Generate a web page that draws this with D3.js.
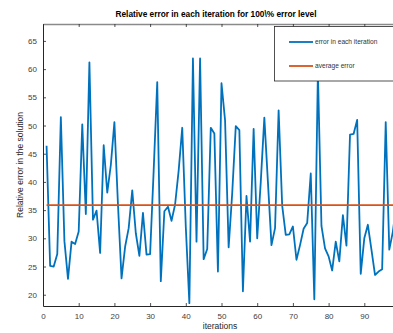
<!DOCTYPE html>
<html>
<head>
<meta charset="utf-8">
<script src="https://cdn.jsdelivr.net/npm/d3@7"></script>
<style>
  html, body { margin: 0; padding: 0; background: #fff; }
  svg { display: block; font-family: "Liberation Sans", Arial, sans-serif; }
</style>
</head>
<body>
<svg id="chart" width="393" height="333"></svg>
<script>
// ---- data ----
const iterations = d3.range(1, 101);
const errorValues = [
  46.4, 25.1, 25.0, 27.2, 51.5, 29.5, 22.8, 29.4, 29.0, 31.2,
  50.2, 34.3, 61.2, 33.3, 34.9, 27.4, 46.5, 38.1, 43.0, 50.6,
  36.0, 22.9, 28.5, 31.8, 38.5, 30.9, 26.9, 34.5, 27.1, 27.2,
  42.0, 57.7, 22.4, 34.8, 35.6, 33.1, 36.0, 42.0, 49.6, 32.0,
  18.5, 61.9, 29.4, 61.9, 26.3, 28.1, 49.6, 48.6, 24.1, 57.5,
  50.9, 28.4, 38.0, 49.9, 49.2, 20.6, 37.5, 29.4, 49.4, 30.0,
  40.0, 51.4, 40.0, 28.8, 31.8, 52.7, 35.8, 30.6, 30.7, 32.1,
  26.2, 28.8, 31.7, 32.7, 41.5, 19.2, 59.5, 32.2, 28.2, 26.8,
  24.3, 29.4, 25.9, 34.1, 28.7, 48.4, 48.5, 51.0, 23.7, 30.0,
  32.4, 28.0, 23.5, 24.1, 24.5, 50.6, 28.0, 31.2, 36.0, 33.0
];
const averageError = [35.9];
const xTicks = [0, 10, 20, 30, 40, 50, 60, 70, 80, 90];
const yTicks = [20, 25, 30, 35, 40, 45, 50, 55, 60, 65];
const legendLabels = ["error in each iteration", "average error"];
const titleText = "Relative error in each iteration for 100\\% error level";
const xLabel = "iterations";
const yLabel = "Relative error in the solution";

// ---- layout ----
const L = 43, R = 400, T = 24, B = 306;
const blue = "#0072BD", orange = "#D95319", axisColor = "#262626";

const svg = d3.select("#chart");
const x = d3.scaleLinear().domain([0, 100]).range([L, R]);
const y = d3.scaleLinear().domain([18, 68]).range([B, T]);

svg.append("rect").attr("x", 0).attr("y", 0).attr("width", 393).attr("height", 333).attr("fill", "#fff");
svg.append("rect").attr("x", L).attr("y", T).attr("width", R - L).attr("height", B - T).attr("fill", "#fff");

svg.append("defs").append("clipPath").attr("id", "clip")
  .append("rect").attr("x", L).attr("y", T).attr("width", R - L).attr("height", B - T);

const tickFont = 8;
// bottom axis
const xAxisB = d3.axisBottom(x).tickValues(xTicks).tickSize(-3).tickPadding(7).tickSizeOuter(0);
const gxb = svg.append("g").attr("transform", `translate(0,${B})`).call(xAxisB);
// top axis
const xAxisT = d3.axisTop(x).tickValues(xTicks).tickSize(-3).tickFormat("").tickSizeOuter(0);
const gxt = svg.append("g").attr("transform", `translate(0,${T})`).call(xAxisT);
// left axis
const yAxisL = d3.axisLeft(y).tickValues(yTicks).tickSize(-3).tickPadding(6).tickSizeOuter(0);
const gyl = svg.append("g").attr("transform", `translate(${L},0)`).call(yAxisL);

[gxb, gxt, gyl].forEach(g => {
  g.selectAll("path.domain").attr("stroke", axisColor).attr("stroke-width", 1);
  g.selectAll(".tick line").attr("stroke", axisColor).attr("stroke-width", 0.8);
  g.selectAll(".tick text").attr("fill", "#404040").attr("font-size", tickFont)
    .attr("font-family", "Liberation Sans, Arial, sans-serif");
});
gxt.select("path.domain").attr("stroke", "#8a8a8a").attr("stroke-width", 1.5);

// data line
const line = d3.line().x((d, i) => x(iterations[i])).y(d => y(d));
const plot = svg.append("g").attr("clip-path", "url(#clip)");
plot.append("path").datum(errorValues)
  .attr("d", line).attr("fill", "none").attr("stroke", blue).attr("stroke-width", 1.8)
  .attr("stroke-linejoin", "round");

// average line
plot.append("path").datum([iterations[0], iterations[iterations.length - 1]])
  .attr("d", d3.line().x(d => x(d)).y(() => y(averageError[0])))
  .attr("fill", "none").attr("stroke", orange).attr("stroke-width", 1.8);

// legend
const lg = svg.append("g");
lg.append("rect").attr("x", 274.5).attr("y", 26.5).attr("width", 140).attr("height", 54.5)
  .attr("fill", "#fff").attr("stroke", axisColor).attr("stroke-width", 0.8);
const legendColors = [blue, orange];
legendLabels.forEach((lab, i) => {
  const ly = 42 + i * 24;
  lg.append("line").attr("x1", 289).attr("x2", 313).attr("y1", ly).attr("y2", ly)
    .attr("stroke", legendColors[i]).attr("stroke-width", 1.8);
  lg.append("text").attr("x", 315).attr("y", ly + 2.3).text(lab)
    .attr("font-size", 6.6).attr("fill", "#333");
});

// title
svg.append("text").attr("x", 216).attr("y", 17).attr("text-anchor", "middle")
  .attr("font-size", 8.3).attr("font-weight", "bold").attr("fill", "#000").text(titleText);

// axis labels
svg.append("text").attr("x", 220).attr("y", 329).attr("text-anchor", "middle")
  .attr("font-size", 8.5).attr("fill", "#262626").text(xLabel);
svg.append("text").attr("transform", `translate(23,${(T + B) / 2}) rotate(-90)`)
  .attr("text-anchor", "middle").attr("font-size", 8.5).attr("fill", "#262626").text(yLabel);
</script>
</body>
</html>
